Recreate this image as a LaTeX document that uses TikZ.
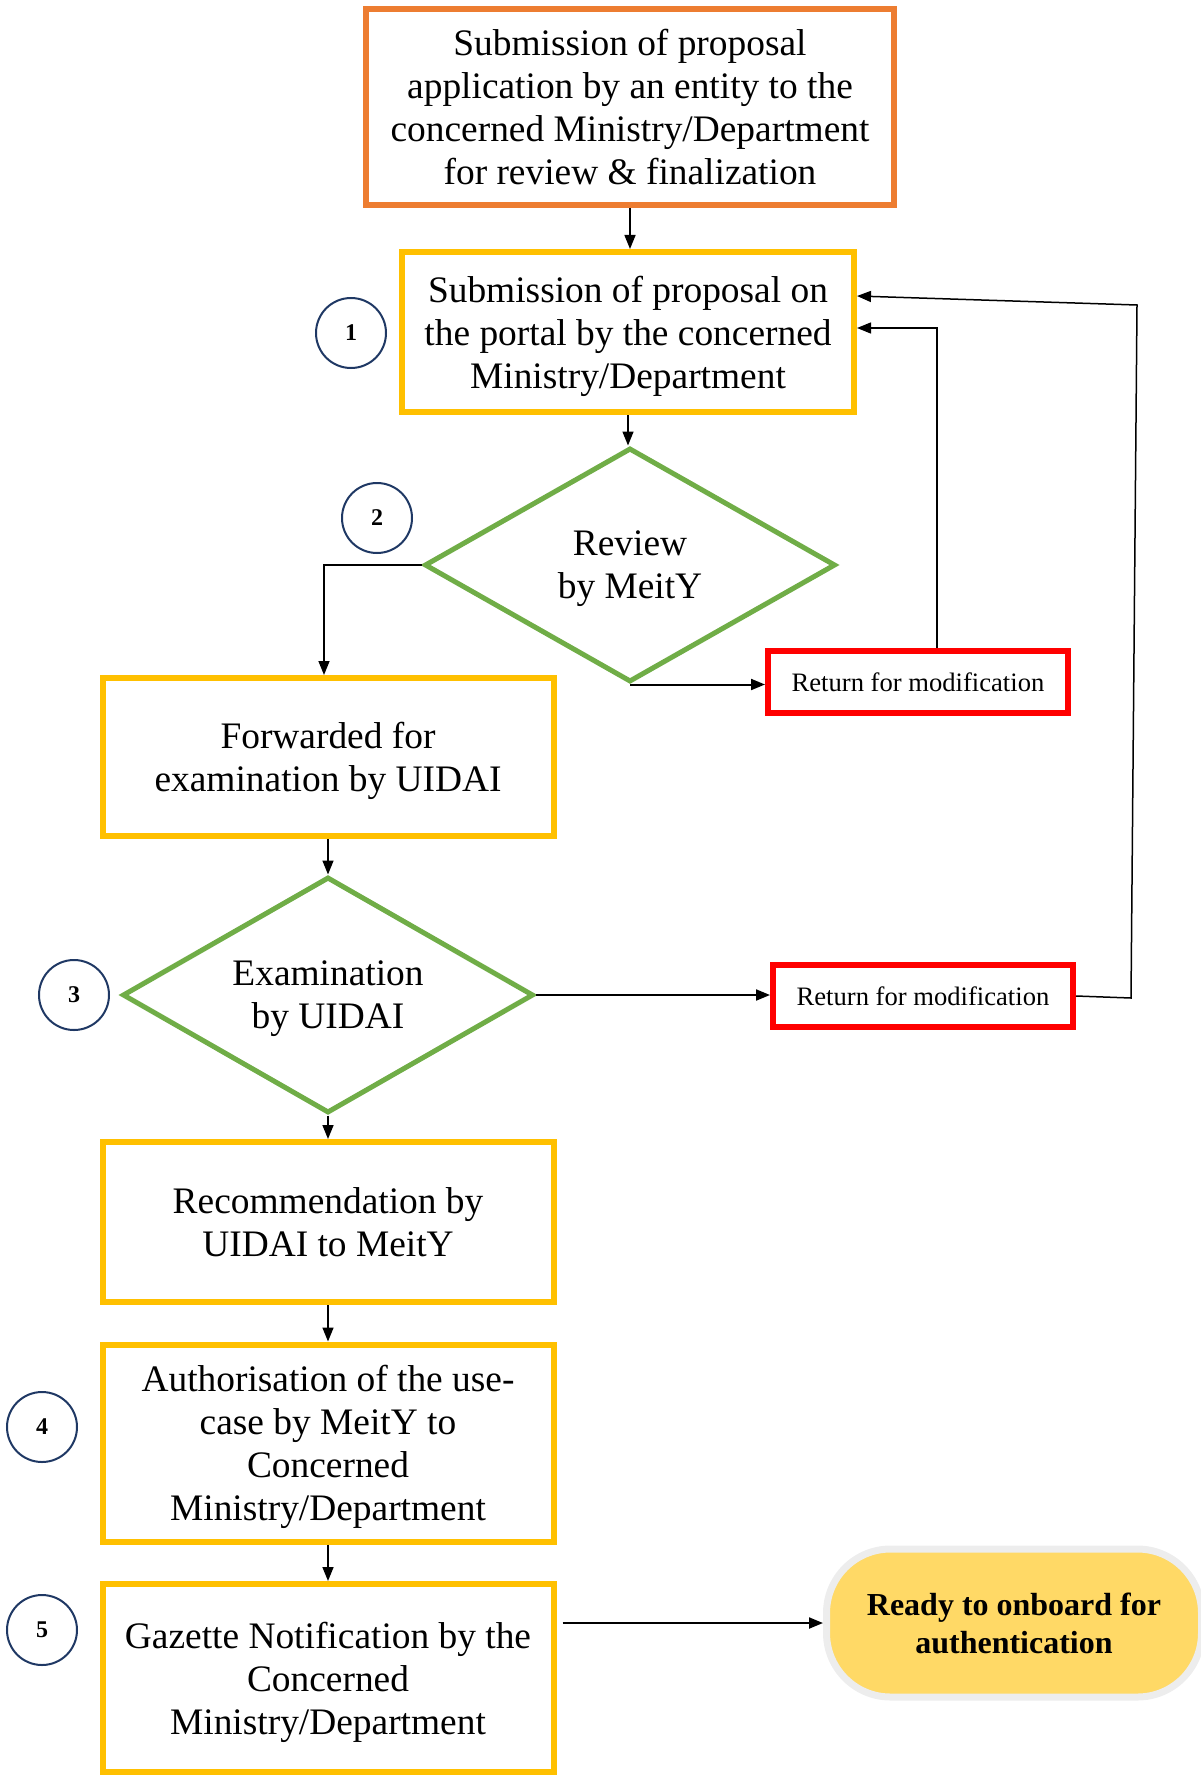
\documentclass[tikz,border=0pt]{standalone}
\usepackage{fontspec}
\setmainfont{Liberation Serif}
\usetikzlibrary{arrows.meta,shapes.geometric}
\definecolor{orangeb}{HTML}{ED7D31}
\definecolor{yellowb}{HTML}{FFC000}
\definecolor{greenb}{HTML}{70AD47}
\definecolor{redb}{HTML}{FF0000}
\definecolor{navyb}{HTML}{1F3864}
\definecolor{goldf}{HTML}{FFD966}
\definecolor{grayr}{HTML}{EDEDED}
\begin{document}
\begin{tikzpicture}[x=0.5pt,y=-0.5pt,
  mainbox/.style={draw=yellowb, line width=3pt, minimum width=225.5pt, align=center, inner sep=0pt, text depth=0pt, font=\fontsize{18.7}{21.5}\selectfont},
  topbox/.style={mainbox, draw=orangeb},
  decide/.style={diamond, draw=greenb, line width=2.5pt, shape aspect=1.76, minimum width=205.5pt, minimum height=117pt, inner sep=0pt, text depth=0pt, align=center, font=\fontsize{18.7}{21.5}\selectfont},
  retbox/.style={draw=redb, line width=3pt, minimum width=150pt, minimum height=31pt, inner sep=0pt, font=\fontsize{13.3}{15}\selectfont},
  numc/.style={circle, draw=navyb, line width=1pt, minimum size=35pt, inner sep=0pt, font=\bfseries\fontsize{12}{14}\selectfont},
  arr/.style={-{Triangle[length=7pt,width=5.5pt]}, line width=0.75pt},
  arrb/.style={arr, line width=1pt},
  readyn/.style={fill=goldf, draw=grayr, line width=3.5pt, rounded corners=32pt, minimum width=187.5pt, minimum height=74pt, inner sep=0pt, align=center, font=\bfseries\fontsize{16}{19}\selectfont}
]
\useasboundingbox (0,0) rectangle (1200,1776);

\node[topbox, minimum width=264pt, minimum height=98pt] (top) at (630,107) {Submission of proposal\\application by an entity to the\\concerned Ministry/Department\\for review \& finalization};
\node[mainbox, minimum width=226pt, minimum height=80pt] (b1) at (628,332) {Submission of proposal on\\the portal by the concerned\\Ministry/Department};
\node[decide] (d1) at (630,565) {Review\\by MeitY};
\node[mainbox, minimum height=79pt] (fwd) at (328,757) {Forwarded for\\examination by UIDAI};
\node[decide, minimum height=118pt] (d2) at (328,995) {Examination\\by UIDAI};
\node[mainbox, minimum height=80pt] (rec) at (328,1222) {Recommendation by\\UIDAI to MeitY};
\node[mainbox, minimum height=98.5pt] (auth) at (328,1443) {Authorisation of the use-\\case by MeitY to\\Concerned\\Ministry/Department};
\node[mainbox, minimum height=94pt] (gaz) at (328,1678) {Gazette Notification by the\\Concerned\\Ministry/Department};
\node[retbox] (r1) at (918,682) {Return for modification};
\node[retbox] (r2) at (923,996) {Return for modification};
\node[readyn] (rdy) at (1014,1623) {Ready to onboard for\\authentication};

\node[numc] (n1) at (351,333) {1};
\node[numc] (n2) at (377,518) {2};
\node[numc] (n3) at (74,995) {3};
\node[numc] (n4) at (42,1427) {4};
\node[numc] (n5) at (42,1630) {5};

\coordinate (k1) at (1131,998);
\coordinate (k2) at (1137,305);

\draw[arr] (top.south) -- (top.south |- b1.north);
\draw[arr] (b1.south) -- (b1.south |- d1.north);
\draw[arr] (d1.west) -| ([xshift=-2pt]fwd.north);
\draw[arrb] (d1.south) -- (d1.south -| r1.west);
\draw[arr] ([xshift=9.5pt]r1.north) |- ([yshift=2pt]b1.east);
\draw[arr] (fwd) -- (d2);
\draw[arrb] (d2.east) -- (d2.east -| r2.west);
\draw[arr] (r2.east) -- (k1) -- (k2) -- ([yshift=18pt]b1.east);
\draw[arr] (d2) -- (rec);
\draw[arr] (rec) -- (auth);
\draw[arr] (auth) -- (gaz);
\draw[arrb, shorten <=3pt] (gaz.east |- rdy.west) -- (rdy.west);
\end{tikzpicture}
\end{document}
